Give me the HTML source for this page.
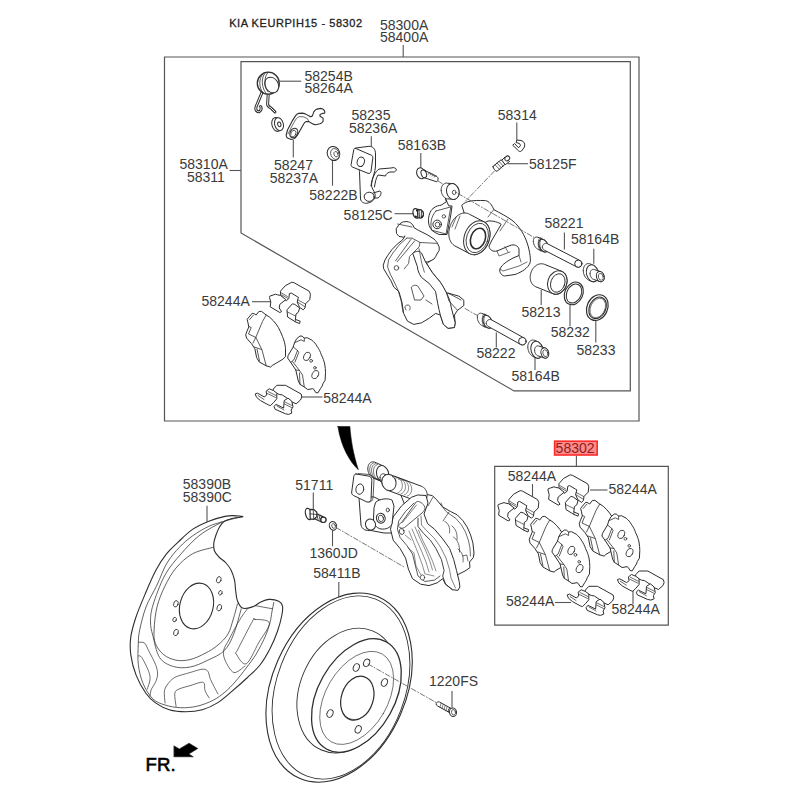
<!DOCTYPE html>
<html><head><meta charset="utf-8"><style>
html,body{margin:0;padding:0;background:#fff;}
svg{display:block;}
</style></head><body>
<svg width="800" height="800" viewBox="0 0 800 800">
<rect width="800" height="800" fill="#fff"/>
<!-- frames -->
<g fill="none" stroke="#555" stroke-width="1.2">
<path d="M164.5 57H639V421H164.5Z"/>
<path d="M241 61.7H630.3V390.9H514L241 233Z"/>
<path d="M494.7 466.4H668.3V625.1H494.7Z"/>
</g>
<!-- leaders -->
<g stroke="#555" stroke-width="1.1" fill="none">
<path d="M403.2 45V57"/>
<path d="M280 81.2H301.2"/>
<path d="M229.5 170.5H241"/>
<path d="M293.3 140V157.5"/>
<path d="M332.5 158.7V185.7"/>
<path d="M371.3 136.2V150"/>
<path d="M420.8 153V168.7"/>
<path d="M516.8 122.5V141.2"/>
<path d="M507.5 163.7H528"/>
<path d="M394.5 213.7H414.5"/>
<path d="M564.4 232.5V249.5"/>
<path d="M593.8 248.7V263.7"/>
<path d="M541.2 290V305"/>
<path d="M570 303.7V326.2"/>
<path d="M595.8 318.7V342.5"/>
<path d="M496.3 332.5V347.5"/>
<path d="M535 356.2V370"/>
<path d="M252 301.7H271.2"/>
<path d="M301.2 397H322.5"/>
<path d="M207 505.7V522.5"/>
<path d="M313.3 492.5V509.5"/>
<path d="M332.5 530V546.2"/>
<path d="M338.8 582V597.5"/>
<path d="M452 691V707.5"/>
<path d="M576.4 455.6V466.5"/>
<path d="M532.5 484V497"/>
<path d="M590 490H607.5"/>
<path d="M555 602.5H571"/>
<path d="M633 590V604"/>
</g>

<!-- ===== TOP FRAME PARTS ===== -->
<g fill="#fff" stroke="#2e2e2e" stroke-width="1" stroke-linejoin="round" stroke-linecap="round">
<!-- spring 58254B -->
<path d="M262 92.5 L256.2 106.5 C255 110 257 112.5 259.5 111.5 C261.5 110.5 261.5 107.5 260.5 106.5" fill="none" stroke-width="3"/>
<path d="M262 92.5 L256.2 106.5 C255 110 257 112.5 259.5 111.5 C261.5 110.5 261.5 107.5 260.5 106.5" fill="none" stroke="#fff" stroke-width="1"/>
<path d="M268.2 94.5 L267.6 104 C267.6 106 269 107 271 108 L275 112" fill="none" stroke-width="3"/>
<path d="M268.2 94.5 L267.6 104 C267.6 106 269 107 271 108 L275 112" fill="none" stroke="#fff" stroke-width="1"/>
<circle cx="268.3" cy="83.2" r="11" stroke-width="1.3"/>
<ellipse cx="271.7" cy="85" rx="6.6" ry="8.2" transform="rotate(-30 271.7 85)"/>
<path d="M262.5 74.5 C258.5 79 259 88 263 93 M265 73.2 C261 78 261.5 87 265.5 92.5 M267.8 72.6 C263.8 77.5 264 86 268 91.8" fill="none" stroke-width="0.8"/>
<!-- bushing -->
<ellipse cx="276.5" cy="124.5" rx="4.6" ry="7" transform="rotate(-15 276.5 124.5)"/>
<ellipse cx="279" cy="124.2" rx="4.3" ry="6.6" transform="rotate(-15 279 124.2)"/>
<ellipse cx="279.3" cy="124.3" rx="1.6" ry="2.4" transform="rotate(-15 279.3 124.3)"/>
<!-- lever 58247 -->
<path d="M286.2 135 L287.5 130 L292.5 120.6 L295.6 115.6 C296.8 114.3 297.7 113.6 298.8 113.4 L302.5 113.1 C304 113.3 305.2 113.8 306.2 114.4 L310 116.6 C311.2 116.8 312 116.4 312.5 115.6 L313.8 111.9 C314.6 110.6 315.7 109.6 316.9 109.1 L320.6 108.4 C322.3 108.6 323.6 109.4 324.4 110.6 C324.9 111.4 324.9 112.4 324.7 113.1 L322.5 113.4 L320 114.4 L320 116.2 L323.1 118.1 L323.1 121.2 C322.3 122.5 321.2 123.3 320 123.8 L315.6 124.7 C314.5 124.6 313.4 124.3 312.5 123.8 L308.8 121.6 L306.2 121.6 C305.1 122 304.3 122.8 303.8 123.8 L300.6 129.4 L297.5 135 L295 138.1 C293.8 139 292.5 139.4 291.2 139.4 L287.5 138.1 C286.5 137.3 286.1 136.2 286.2 135 Z" stroke-width="1.1"/>
<path d="M288.1 133.8 L292.5 125 L296.2 118.8 C297.5 117.4 298.7 116.7 300 116.6 L303.8 116.9 L307.5 118.8 L308.8 121.6" fill="none" stroke-width="0.7"/>
<ellipse cx="293.8" cy="133" rx="3.7" ry="5" transform="rotate(25 293.8 133)" stroke-width="1.1"/>
<ellipse cx="293.4" cy="133.6" rx="2.4" ry="3.6" transform="rotate(25 293.4 133.6)" stroke-width="0.7"/>
<!-- grommet 58222B -->
<ellipse cx="333.5" cy="153.5" rx="6.2" ry="7.2" transform="rotate(-20 333.5 153.5)"/>
<ellipse cx="335" cy="154" rx="4.2" ry="5.6" transform="rotate(-20 335 154)" stroke-width="0.7"/>
<ellipse cx="336" cy="154.2" rx="2" ry="2.8" transform="rotate(-20 336 154.2)" stroke-width="0.7"/>
<!-- bracket 58235 -->
<path d="M359.5 172 L360.5 199 C361 202.5 365 204 368 203 C373 202 376 198 375 194 C374 190 371 188 371.5 184 C372 178 375.5 172 375.5 166 L375.5 154 C375.5 149 373 146.3 369 146.3 L356 148 Z"/>
<path d="M355.6 148.4 L371.6 155.3 C372.6 155.8 373 156.8 372.8 158 L371 171.5 C370.8 173 369.5 173.8 368 173.3 L352.3 167 C351.3 166.6 350.9 165.6 351.1 164.5 L353.8 149.5 C354 148.5 354.8 148.1 355.6 148.4Z"/>
<ellipse cx="360.8" cy="161.8" rx="3.6" ry="4.8" transform="rotate(15 360.8 161.8)"/>
<path d="M371 186 C372 178 375 172 379 169 L391 168 C394 167 396 168 396.5 170 L394.5 172 L390 172 C387 173 386 174 385.5 176 L378 175 C376 178 375 183 374.5 187" fill="none"/>
<ellipse cx="369.2" cy="196.8" rx="5" ry="4.6"/>
<path d="M373 193 L380 191 C382 192 381 196 378 198 L374 198" fill="none"/>
<!-- bolt 58163B -->
<path d="M425 170.5 L437 176.6 C438.6 177.5 438.5 180.5 436.8 181.8 L423 177.3Z"/>
<path d="M428 174 L430 172.7 M430 175 L432 173.8 M432 176 L434 174.8 M434 177 L436 175.8" fill="none" stroke-width="0.7"/>
<ellipse cx="421" cy="173.3" rx="4.2" ry="5.6" transform="rotate(-20 421 173.3)"/>
<ellipse cx="423.8" cy="173.8" rx="2.6" ry="4" transform="rotate(-20 423.8 173.8)"/>
<!-- clip 58314 -->
<path d="M513 145.5 L518.5 150.8 C519.3 151.7 520.5 151.8 521.5 151 L524.5 147 C525.3 144 524 141 521 140.5 L517 140 L516 142.5 L519.5 143.5 L520.5 145.5 L518.5 147.8 L514.8 143.8 Z"/>
<!-- bleeder 58125F -->
<path d="M493 166.5 L501 159.8 C502.8 160.2 504.7 162.3 505 164.3 L497 171.3 C495.5 171.2 493.2 168.8 493 166.5Z"/>
<path d="M495 164.7 L499.7 169.6 M497 163 L501.5 168 M499 161.3 L503.3 166.2" fill="none" stroke-width="0.7"/>
<path d="M502 160 L505 157 L509.5 161.5 L505.5 164.5 Z"/>
<ellipse cx="507.3" cy="158.4" rx="2.2" ry="2.6" transform="rotate(45 507.3 158.4)"/>
<!-- small bolt 58125C -->
<ellipse cx="416.2" cy="213.4" rx="3.1" ry="4.9" transform="rotate(-15 416.2 213.4)" stroke-width="1.3"/>
<path d="M417.5 209.5 L421 209.8 L423.3 212.3 L423.4 215.8 L421 218.2 L417.8 217.6 Z" stroke-width="1.3"/>
<path d="M419 210 L419.5 217.5 M421.5 211 L421.2 217" fill="none" stroke-width="0.9"/>
<path d="M416 209.5 L418 209.8 L418 211.5 L416 211.2 Z M415 215.5 L417 216 L416.5 218 L414.8 217.2 Z M421.5 215.5 L423.3 215.8 L422.5 218 L421 217.8Z" fill="#222" stroke="none"/>
</g>


<g fill="#fff" stroke="#2e2e2e" stroke-width="1" stroke-linejoin="round" stroke-linecap="round">
<path d="M494.5 171 L465.6 201" stroke="#555" stroke-width="0.8" stroke-dasharray="5 2 1 2" fill="none"/>
<path d="M465 308.5 L479 316.5" stroke="#555" stroke-width="0.8" stroke-dasharray="5 2 1 2" fill="none"/>
<path d="M396.4 228.5 L398.1 225.9 C400 223.5 402 222 403.4 221.9 L406.9 221.5 C409 222 410.5 222.5 411.2 223.2 L413.4 225.9 L413.9 227.6 L418.2 230.2 L427 234.6 L434 239 C436 241 437 242.5 437.5 243.4 L439.2 246.9 L439.2 250.4 L437.5 253 L435.7 256.5 L434 259.1 L430.5 260.9 L427.8 261.9 L425.5 261.9 C428 266 430 269 432.5 272.8 L440.3 282.2 L446.6 293.1 L448.1 293.1 L459 296.2 L463.8 300.2 L463.8 305.6 L457.5 310.3 L454.4 315 L455.2 322.8 L454.4 327.5 L448.1 328.3 L443.4 324.4 L440.3 315 L435.6 313.4 L429.4 318.1 L421.6 322.8 L413.8 324.4 L407.5 321.2 L403.6 313.4 L402 302.5 L398.9 291.6 L393.8 287.1 L391.1 281 L386.8 274 L383.7 268.8 L383.2 265.2 L385 260 L387.6 255.6 L392 249.5 L397.2 244.2 L402.5 239.9 L405.1 235.9 L403.4 237.2 L399 236.4 L396.8 233.8 Z"/>
<path d="M406.9 238.1 L399.9 244.2 L392.9 253 L388.5 260 L387.6 267 L390.2 274 L393.8 281 L398 290 L401 300 L403 312 M406.9 238.1 L412.1 238.1 L420 242.5 L419.1 246.9 L414.8 251.2 L411.2 254.8 L409.5 256.5 L408.6 263.5 L404.2 268.8 M411.2 239 L395.5 260.9 M414.8 240.8 L397.2 261.8 M437.5 243.4 L420 242.5 M430.5 260.9 L425 265 M397.5 224 L412 227" fill="none" stroke-width="0.75"/>
<circle cx="396.4" cy="267.9" r="2.3" stroke-width="0.8"/>
<path d="M413 253 C416 251 419.5 250.5 421.5 253 L425.5 261.9 C428 266 430 269 432.5 272.8 L440.3 282.2 C443 286 445 290 446.6 293.1 C449 298 450.5 302 451.2 307.2 L455.2 322.8 L454.4 327.5 L448.1 328.3 L443.4 324.4 L440.3 315 C438.5 308 437 300 435.6 291.6 C433 288 431 286 429.4 283.7 L421.6 277.5 C419 274 417.5 270 417.4 267 Z"/>
<path d="M419 248.6 L421.8 263.5 L424.4 272.2" fill="none" stroke-width="0.7"/>
<path d="M406 310 C404 307 405 305 408 305 C410 305 411 308 409.5 310 M411.5 287 C414 284 418 285 419 288 L424 296 L421 300 L415 300 Z M426 300 L432 304" fill="none" stroke-width="0.8"/>
<path d="M446.6 293.1 L449 301 L457.5 310.3 M448.1 293.1 L461 300" fill="none" stroke-width="0.8"/>
<path d="M462 205 C466 201 472 200 485.4 200.6 C489 201 492 205 493.8 209.6 C500 213 508 217 513 221 C520 227 525 236 527.5 244 C530 252 531 260 530 263 C528 268 522 272 515 274.5 L504.5 276 C501 275.5 499 271.5 500 269 C502 264 508 261 513 258 L519 255.5 L519 249 C518 245.5 514 244 510 245.5 L497 251 C493 252 489.5 250 489 246 L492 240 L501.2 224.3 C499 222.5 493 220.5 488 221 L470 230 Z"/>
<path d="M500 269 L503 271 L519 266 L527 262 M519 255.5 L521 262 M505 246.6 L508 252 M497 251 L499 256 L510 252 M493.8 209.6 L488 217 M508 219 L500 231" fill="none" stroke-width="0.7"/>
<path d="M448.8 233.9 L448.8 232.8 L448.9 231.6 L449.1 230.4 L449.3 229.2 L449.5 228.1 L449.9 226.9 L450.2 225.7 L450.7 224.6 L451.2 223.5 L451.8 222.4 L452.4 221.4 L453.0 220.4 L453.7 219.4 L454.4 218.5 L455.2 217.7 L456.0 216.9 L456.9 216.2 L457.7 215.5 L458.6 214.9 L459.5 214.4 L460.4 214.0 L461.3 213.6 L462.2 213.3 L463.1 213.2 L464.1 213.0 L465.0 213.0 L465.9 213.1 L466.7 213.2 L467.6 213.4 L468.4 213.7 L469.2 214.1 L484.0 221.8 L484.7 222.2 L485.4 222.8 L486.1 223.4 L486.8 224.1 L487.3 224.8 L487.9 225.6 L488.3 226.5 L488.8 227.4 L489.1 228.3 L489.4 229.3 L489.6 230.4 L489.8 231.5 L489.9 232.6 L490.0 233.8 L490.0 234.9 L489.9 236.1 L489.7 237.3 L489.5 238.5 L489.3 239.6 L488.9 240.8 L488.6 242.0 L488.1 243.1 L487.6 244.2 L487.1 245.3 L486.4 246.3 L485.8 247.3 L485.1 248.3 L484.4 249.2 L483.6 250.0 L482.8 250.8 L481.9 251.6 L481.1 252.2 L480.2 252.8 L479.3 253.3 L478.4 253.7 L477.5 254.1 L476.6 254.3 L475.6 254.6 L474.7 254.7 L473.8 254.7 L472.9 254.6 L472.1 254.5 L471.2 254.3 L470.4 254.0 L469.6 253.6 L454.8 245.9 L454.1 245.4 L453.4 244.9 L452.7 244.3 L452.1 243.7 L451.5 242.9 L450.9 242.1 L450.5 241.2 L450.1 240.3 L449.7 239.4 L449.4 238.3 L449.1 237.3 L449.0 236.2 L448.9 235.1Z" /><ellipse cx="476.8" cy="237.7" rx="12.5" ry="17.5" transform="rotate(20 476.8 237.7)" />
<ellipse cx="477.3" cy="238" rx="10.6" ry="15.2" transform="rotate(20 477.3 238)" stroke-width="0.8"/>
<ellipse cx="478" cy="238.5" rx="7.2" ry="10.6" transform="rotate(20 478 238.5)" stroke-width="1.6"/>
<path d="M456 217.5 L452 227 M460 216 L455 229" fill="none" stroke-width="0.7"/>
<path d="M445.5 198.4 L448.7 205.8 L452 206 L450.8 215 L447 234.5 L439.1 234.5 L434.9 232.4 C431 230.5 429 227 428.5 222 C428.2 216 430 211 433 208.5 C436 206 439 205.3 441 205.3 L446 202 Z"/>
<path d="M436 211 L450.8 206.9 L446 234 L431.7 230.2 C430 224 431 216 436 211 Z" fill="none" stroke-width="0.8"/>
<circle cx="437.2" cy="224.4" r="4.3"/><circle cx="437.6" cy="224.6" r="2.4" stroke-width="0.8"/><circle cx="443.9" cy="216.4" r="1.7" stroke-width="0.8"/>
<path d="M438 181 L446 186" stroke="#555" stroke-width="0.8" stroke-dasharray="5 2 1 2" fill="none"/>
<path d="M441.2 189.9 L441.2 189.3 L441.2 188.8 L441.3 188.3 L441.4 187.8 L441.6 187.3 L441.8 186.8 L441.9 186.3 L442.2 185.9 L442.4 185.5 L442.7 185.1 L443.0 184.8 L443.3 184.4 L443.7 184.2 L444.0 183.9 L444.4 183.7 L444.8 183.5 L445.2 183.3 L445.6 183.2 L446.1 183.2 L446.5 183.1 L446.9 183.1 L447.4 183.2 L452.7 183.7 L453.1 183.7 L453.6 183.8 L454.0 184.0 L454.4 184.2 L454.9 184.4 L455.3 184.7 L455.7 185.0 L456.1 185.3 L456.4 185.7 L456.8 186.0 L457.1 186.5 L457.4 186.9 L457.7 187.3 L458.0 187.8 L458.2 188.3 L458.4 188.8 L458.6 189.4 L458.8 189.9 L458.9 190.4 L459.0 191.0 L459.1 191.5 L459.1 192.1 L459.1 192.6 L459.1 193.2 L459.1 193.7 L459.0 194.2 L458.9 194.7 L458.7 195.2 L458.6 195.7 L458.4 196.2 L458.1 196.6 L457.9 197.0 L457.6 197.4 L457.3 197.7 L457.0 198.1 L456.6 198.3 L456.3 198.6 L455.9 198.8 L455.5 199.0 L455.1 199.2 L454.7 199.3 L454.2 199.3 L453.8 199.4 L453.4 199.4 L452.9 199.3 L447.6 198.8 L447.2 198.8 L446.7 198.7 L446.3 198.5 L445.9 198.3 L445.4 198.1 L445.0 197.8 L444.6 197.5 L444.2 197.2 L443.9 196.8 L443.5 196.5 L443.2 196.0 L442.9 195.6 L442.6 195.2 L442.3 194.7 L442.1 194.2 L441.9 193.7 L441.7 193.1 L441.5 192.6 L441.4 192.1 L441.3 191.5 L441.2 191.0 L441.2 190.4Z" /><ellipse cx="452.8" cy="191.5" rx="6.2" ry="8" transform="rotate(-15 452.8 191.5)" />
<ellipse cx="454.2" cy="192.4" rx="1.8" ry="2.2" stroke-width="0.8"/>
<path d="M458 193.5 L535 238" stroke="#555" stroke-width="0.8" stroke-dasharray="5 2 1 2" fill="none"/>
<path d="M533.4 241.2 L533.4 240.8 L533.4 240.4 L533.5 240.0 L533.5 239.7 L533.6 239.3 L533.8 239.0 L533.9 238.7 L534.1 238.4 L534.3 238.1 L534.5 237.9 L534.7 237.7 L534.9 237.5 L535.2 237.3 L535.5 237.2 L535.8 237.1 L536.0 237.0 L536.4 237.0 L536.7 237.0 L537.0 237.0 L537.3 237.1 L537.7 237.2 L538.0 237.3 L543.4 239.5 L543.7 239.6 L544.1 239.8 L544.4 240.0 L544.7 240.2 L545.1 240.5 L545.4 240.8 L545.7 241.1 L546.0 241.4 L546.3 241.8 L546.5 242.2 L546.8 242.5 L547.1 242.9 L547.3 243.4 L547.5 243.8 L547.7 244.2 L547.9 244.7 L548.0 245.1 L548.1 245.6 L548.2 246.0 L548.3 246.4 L548.4 246.9 L548.4 247.3 L548.4 247.8 L548.4 248.2 L548.4 248.6 L548.3 249.0 L548.3 249.3 L548.2 249.7 L548.0 250.0 L547.9 250.3 L547.7 250.6 L547.5 250.9 L547.3 251.1 L547.1 251.3 L546.9 251.5 L546.6 251.7 L546.3 251.8 L546.0 251.9 L545.8 252.0 L545.5 252.0 L545.1 252.0 L544.8 252.0 L544.5 251.9 L544.1 251.8 L543.8 251.7 L538.4 249.5 L538.1 249.4 L537.7 249.2 L537.4 249.0 L537.1 248.8 L536.7 248.5 L536.4 248.2 L536.1 247.9 L535.8 247.6 L535.5 247.2 L535.2 246.8 L535.0 246.5 L534.7 246.1 L534.5 245.6 L534.3 245.2 L534.1 244.8 L533.9 244.3 L533.8 243.9 L533.7 243.4 L533.6 243.0 L533.5 242.6 L533.4 242.1 L533.4 241.7Z" /><ellipse cx="543.6" cy="245.6" rx="4.3" ry="6.8" transform="rotate(-25 543.6 245.6)" />
<path d="M540 237.5 C537.5 240 537.5 247 540.2 251 M541.6 237.8 C539.2 240.5 539.2 247.5 541.8 251.3" fill="none" stroke-width="0.7"/>
<path d="M542.4 247.0 L542.4 246.8 L542.4 246.5 L542.5 246.2 L542.5 246.0 L542.6 245.8 L542.7 245.5 L542.8 245.3 L543.0 245.1 L543.1 244.9 L543.2 244.7 L543.4 244.5 L543.6 244.3 L543.8 244.2 L544.2 243.9 L544.4 243.8 L544.6 243.7 L544.9 243.6 L545.1 243.5 L545.4 243.4 L545.6 243.4 L545.9 243.4 L546.1 243.4 L546.4 243.4 L546.6 243.4 L546.9 243.5 L547.1 243.6 L547.4 243.7 L547.6 243.8 L579.9 260.5 L580.1 260.6 L580.5 260.9 L580.7 261.0 L580.9 261.2 L581.1 261.4 L581.2 261.6 L581.4 261.8 L581.5 262.0 L581.6 262.2 L581.7 262.5 L581.8 262.7 L581.8 262.9 L581.9 263.2 L581.9 263.4 L581.9 263.7 L581.9 263.9 L581.9 264.2 L581.8 264.4 L581.8 264.7 L581.7 264.9 L581.6 265.2 L581.5 265.4 L581.4 265.6 L581.2 265.8 L581.1 266.0 L580.9 266.2 L580.7 266.4 L580.5 266.5 L580.1 266.8 L579.9 266.9 L579.6 267.0 L579.4 267.1 L579.2 267.2 L578.9 267.2 L578.7 267.3 L578.4 267.3 L578.2 267.3 L577.9 267.3 L577.7 267.2 L577.4 267.2 L577.2 267.1 L577.0 267.0 L576.7 266.9 L544.4 250.2 L544.2 250.1 L543.8 249.8 L543.6 249.7 L543.4 249.5 L543.2 249.3 L543.1 249.1 L543.0 248.9 L542.8 248.7 L542.7 248.5 L542.6 248.2 L542.5 248.0 L542.5 247.8 L542.4 247.5 L542.4 247.2Z" /><ellipse cx="578.3" cy="263.7" rx="3.6" ry="3.6" />
<path d="M583.3 270.6 L583.3 270.0 L583.3 269.5 L583.4 268.9 L583.5 268.4 L583.6 267.9 L583.8 267.4 L584.0 266.9 L584.2 266.4 L584.4 266.0 L584.7 265.6 L585.0 265.2 L585.3 264.9 L585.6 264.6 L585.9 264.3 L586.3 264.1 L586.7 263.9 L587.1 263.8 L587.5 263.6 L587.9 263.6 L588.3 263.6 L588.7 263.6 L589.2 263.6 L589.6 263.7 L590.0 263.9 L590.5 264.0 L593.5 265.3 L593.9 265.5 L594.3 265.8 L594.7 266.1 L595.1 266.4 L595.5 266.8 L595.9 267.2 L596.2 267.6 L596.6 268.0 L596.9 268.5 L597.2 269.0 L597.5 269.5 L597.7 270.1 L597.9 270.6 L598.1 271.2 L598.3 271.8 L598.4 272.3 L598.5 272.9 L598.6 273.5 L598.7 274.1 L598.7 274.7 L598.7 275.3 L598.7 275.8 L598.6 276.4 L598.5 276.9 L598.4 277.4 L598.2 277.9 L598.0 278.4 L597.8 278.9 L597.6 279.3 L597.3 279.7 L597.0 280.1 L596.7 280.4 L596.4 280.7 L596.1 281.0 L595.7 281.2 L595.3 281.4 L594.9 281.6 L594.5 281.7 L594.1 281.7 L593.7 281.8 L593.3 281.7 L592.8 281.7 L592.4 281.6 L592.0 281.4 L591.5 281.3 L588.5 280.0 L588.1 279.8 L587.7 279.5 L587.3 279.2 L586.9 278.9 L586.5 278.5 L586.1 278.1 L585.8 277.7 L585.4 277.3 L585.1 276.8 L584.8 276.3 L584.5 275.8 L584.3 275.2 L584.1 274.7 L583.9 274.1 L583.7 273.6 L583.6 273.0 L583.5 272.4 L583.4 271.8 L583.3 271.2Z" /><ellipse cx="592.5" cy="273.3" rx="6" ry="8.6" transform="rotate(-15 592.5 273.3)" />
<path d="M590.1 273.7 L590.1 273.4 L590.1 273.0 L590.2 272.7 L590.2 272.3 L590.3 272.0 L590.4 271.7 L590.5 271.4 L590.7 271.1 L590.8 270.9 L591.0 270.6 L591.2 270.4 L591.4 270.2 L591.6 270.0 L591.8 269.9 L592.0 269.7 L592.3 269.6 L592.5 269.5 L592.8 269.4 L593.0 269.4 L593.3 269.4 L593.6 269.4 L593.9 269.4 L594.1 269.5 L594.4 269.6 L600.7 271.6 L601.0 271.8 L601.2 271.9 L601.5 272.0 L601.8 272.2 L602.0 272.4 L602.2 272.6 L602.5 272.9 L602.7 273.1 L602.9 273.4 L603.1 273.7 L603.3 274.0 L603.5 274.3 L603.6 274.6 L603.8 274.9 L603.9 275.3 L604.0 275.6 L604.1 276.0 L604.1 276.3 L604.2 276.7 L604.2 277.0 L604.2 277.4 L604.2 277.7 L604.2 278.1 L604.1 278.4 L604.1 278.8 L604.0 279.1 L603.9 279.4 L603.8 279.7 L603.6 279.9 L603.5 280.2 L603.3 280.5 L603.1 280.7 L602.9 280.9 L602.7 281.1 L602.5 281.2 L602.3 281.4 L602.0 281.5 L601.8 281.6 L601.5 281.6 L601.2 281.7 L601.0 281.7 L600.7 281.7 L600.5 281.7 L600.2 281.6 L599.9 281.6 L593.6 279.4 L593.3 279.3 L593.1 279.2 L592.8 279.1 L592.5 278.9 L592.3 278.7 L592.0 278.5 L591.8 278.2 L591.6 278.0 L591.4 277.7 L591.2 277.4 L591.0 277.1 L590.8 276.8 L590.7 276.5 L590.5 276.2 L590.4 275.8 L590.3 275.5 L590.2 275.1 L590.2 274.8 L590.1 274.4 L590.1 274.1Z" /><ellipse cx="600.3" cy="276.6" rx="3.8" ry="5.2" transform="rotate(-15 600.3 276.6)" />
<ellipse cx="600.8" cy="276.8" rx="2.4" ry="3.5" transform="rotate(-15 600.8 276.8)" stroke-width="0.7"/>
<path d="M530.2 277.1 L530.2 276.3 L530.3 275.5 L530.4 274.7 L530.6 273.9 L530.8 273.1 L531.1 272.2 L531.4 271.5 L531.7 270.7 L532.1 270.0 L532.5 269.3 L533.0 268.6 L533.5 267.9 L534.0 267.3 L534.6 266.8 L535.2 266.2 L535.8 265.8 L536.4 265.3 L537.1 264.9 L537.7 264.6 L538.4 264.3 L539.1 264.1 L539.8 263.9 L540.5 263.8 L541.1 263.8 L541.8 263.8 L542.5 263.8 L543.1 263.9 L543.8 264.1 L544.4 264.3 L561.7 271.3 L562.3 271.6 L562.9 272.0 L563.4 272.3 L564.0 272.8 L564.5 273.3 L564.9 273.8 L565.3 274.4 L565.7 275.0 L566.0 275.6 L566.3 276.3 L566.6 277.0 L566.8 277.7 L566.9 278.5 L567.0 279.3 L567.1 280.1 L567.1 280.9 L567.1 281.7 L567.0 282.5 L566.9 283.3 L566.7 284.1 L566.5 284.9 L566.2 285.8 L565.9 286.5 L565.6 287.3 L565.2 288.0 L564.8 288.7 L564.3 289.4 L563.8 290.1 L563.3 290.7 L562.7 291.2 L562.1 291.8 L561.5 292.2 L560.9 292.7 L560.2 293.1 L559.6 293.4 L558.9 293.7 L558.2 293.9 L557.5 294.1 L556.8 294.2 L556.2 294.2 L555.5 294.2 L554.8 294.2 L554.1 294.1 L553.5 293.9 L552.9 293.7 L535.6 286.7 L535.0 286.4 L534.4 286.0 L533.9 285.7 L533.3 285.2 L532.9 284.7 L532.4 284.2 L532.0 283.6 L531.6 283.0 L531.3 282.4 L531.0 281.7 L530.7 281.0 L530.5 280.3 L530.4 279.5 L530.2 278.7 L530.2 277.9Z" /><ellipse cx="557.3" cy="282.5" rx="9.5" ry="12" transform="rotate(20 557.3 282.5)" />
<ellipse cx="557.8" cy="283" rx="7" ry="9.5" transform="rotate(20 557.8 283)" stroke-width="0.9"/>
<ellipse cx="573.8" cy="293.4" rx="9" ry="11.8" transform="rotate(25 573.8 293.4)" stroke-width="1.1"/>
<ellipse cx="574" cy="293.5" rx="7.2" ry="10" transform="rotate(25 574 293.5)" stroke-width="1"/>
<ellipse cx="597.3" cy="307.6" rx="10.3" ry="13.3" transform="rotate(25 597.3 307.6)" stroke-width="1.2"/>
<ellipse cx="597.6" cy="307.8" rx="8.2" ry="11.2" transform="rotate(25 597.6 307.8)" stroke-width="1.1"/>
<ellipse cx="597.8" cy="308" rx="7.2" ry="10.2" transform="rotate(25 597.8 308)" stroke-width="0.6"/>
<path d="M477.4 317.4 L477.4 317.0 L477.4 316.6 L477.5 316.2 L477.5 315.9 L477.6 315.5 L477.8 315.2 L477.9 314.9 L478.1 314.6 L478.3 314.3 L478.5 314.1 L478.7 313.9 L478.9 313.7 L479.2 313.5 L479.5 313.4 L479.8 313.3 L480.1 313.2 L480.4 313.2 L480.7 313.2 L481.0 313.2 L481.3 313.3 L481.7 313.4 L482.0 313.5 L487.4 315.7 L487.7 315.8 L488.1 316.0 L488.4 316.2 L488.7 316.4 L489.1 316.7 L489.4 317.0 L489.7 317.3 L490.0 317.6 L490.3 318.0 L490.6 318.4 L490.8 318.7 L491.1 319.1 L491.3 319.6 L491.5 320.0 L491.7 320.4 L491.9 320.9 L492.0 321.3 L492.1 321.8 L492.2 322.2 L492.3 322.6 L492.4 323.1 L492.4 323.5 L492.4 323.9 L492.4 324.4 L492.4 324.8 L492.3 325.2 L492.3 325.5 L492.2 325.9 L492.0 326.2 L491.9 326.5 L491.7 326.8 L491.5 327.1 L491.3 327.3 L491.1 327.6 L490.9 327.7 L490.6 327.9 L490.3 328.0 L490.1 328.1 L489.8 328.2 L489.4 328.2 L489.1 328.2 L488.8 328.2 L488.5 328.1 L488.1 328.1 L487.8 327.9 L482.4 325.7 L482.1 325.6 L481.7 325.4 L481.4 325.2 L481.1 324.9 L480.7 324.7 L480.4 324.4 L480.1 324.1 L479.8 323.8 L479.5 323.4 L479.2 323.1 L479.0 322.7 L478.7 322.3 L478.5 321.8 L478.3 321.4 L478.1 321.0 L477.9 320.5 L477.8 320.1 L477.7 319.6 L477.6 319.2 L477.5 318.8 L477.4 318.3 L477.4 317.9Z" /><ellipse cx="487.6" cy="321.8" rx="4.3" ry="6.8" transform="rotate(-25 487.6 321.8)" />
<path d="M484 313.7 C481.5 316.2 481.5 323.2 484.2 327.2 M485.6 314 C483.2 316.7 483.2 323.7 485.8 327.5" fill="none" stroke-width="0.7"/>
<path d="M486.3 323.2 L486.3 322.9 L486.3 322.7 L486.4 322.4 L486.4 322.2 L486.5 321.9 L486.6 321.7 L486.7 321.5 L486.9 321.2 L487.0 321.0 L487.2 320.8 L487.3 320.6 L487.5 320.4 L487.7 320.3 L487.9 320.1 L488.1 320.0 L488.4 319.9 L488.6 319.8 L488.9 319.7 L489.1 319.6 L489.4 319.6 L489.6 319.5 L489.9 319.5 L490.1 319.5 L490.4 319.5 L490.6 319.6 L490.9 319.6 L491.1 319.7 L491.4 319.8 L491.6 319.9 L523.9 337.9 L524.1 338.0 L524.4 338.1 L524.6 338.3 L524.8 338.4 L525.0 338.6 L525.1 338.8 L525.3 339.0 L525.4 339.2 L525.6 339.5 L525.7 339.7 L525.8 339.9 L525.9 340.2 L525.9 340.4 L526.0 340.7 L526.0 340.9 L526.0 341.2 L526.0 341.5 L526.0 341.7 L525.9 342.0 L525.9 342.2 L525.8 342.5 L525.7 342.7 L525.6 342.9 L525.4 343.2 L525.3 343.4 L525.1 343.6 L525.0 343.8 L524.8 343.9 L524.6 344.1 L524.4 344.3 L524.1 344.4 L523.9 344.5 L523.7 344.6 L523.4 344.7 L523.2 344.8 L522.9 344.8 L522.7 344.9 L522.4 344.9 L522.2 344.9 L521.9 344.9 L521.7 344.8 L521.4 344.8 L521.2 344.7 L520.9 344.6 L520.7 344.5 L488.4 326.5 L488.1 326.4 L487.9 326.3 L487.7 326.1 L487.5 325.9 L487.3 325.8 L487.2 325.6 L487.0 325.4 L486.9 325.2 L486.7 324.9 L486.6 324.7 L486.5 324.5 L486.4 324.2 L486.4 324.0 L486.3 323.7 L486.3 323.5Z" /><ellipse cx="522.3" cy="341.2" rx="3.7" ry="3.7" />
<path d="M527.8 347.1 L527.8 346.5 L527.8 346.0 L527.9 345.4 L528.0 344.9 L528.1 344.4 L528.3 343.9 L528.5 343.4 L528.7 342.9 L528.9 342.5 L529.2 342.1 L529.5 341.7 L529.8 341.4 L530.1 341.1 L530.4 340.8 L530.8 340.6 L531.2 340.4 L531.6 340.2 L532.0 340.1 L532.4 340.1 L532.8 340.1 L533.2 340.1 L533.7 340.1 L534.1 340.2 L534.5 340.4 L535.0 340.5 L538.0 341.8 L538.4 342.0 L538.8 342.3 L539.2 342.6 L539.6 342.9 L540.0 343.3 L540.4 343.7 L540.7 344.1 L541.1 344.5 L541.4 345.0 L541.7 345.5 L542.0 346.0 L542.2 346.6 L542.4 347.1 L542.6 347.7 L542.8 348.2 L542.9 348.8 L543.0 349.4 L543.1 350.0 L543.2 350.6 L543.2 351.2 L543.2 351.8 L543.2 352.3 L543.1 352.9 L543.0 353.4 L542.9 353.9 L542.7 354.4 L542.5 354.9 L542.3 355.4 L542.1 355.8 L541.8 356.2 L541.5 356.6 L541.2 356.9 L540.9 357.2 L540.6 357.5 L540.2 357.7 L539.8 357.9 L539.4 358.1 L539.0 358.2 L538.6 358.2 L538.2 358.2 L537.8 358.2 L537.3 358.2 L536.9 358.1 L536.5 357.9 L536.0 357.8 L533.0 356.5 L532.6 356.3 L532.2 356.0 L531.8 355.7 L531.4 355.4 L531.0 355.0 L530.6 354.6 L530.3 354.2 L529.9 353.8 L529.6 353.3 L529.3 352.8 L529.0 352.3 L528.8 351.8 L528.6 351.2 L528.4 350.6 L528.2 350.1 L528.1 349.5 L528.0 348.9 L527.9 348.3 L527.8 347.7Z" /><ellipse cx="537" cy="349.8" rx="6" ry="8.6" transform="rotate(-15 537 349.8)" />
<path d="M534.6 350.2 L534.6 349.9 L534.6 349.5 L534.7 349.2 L534.7 348.8 L534.8 348.5 L534.9 348.2 L535.0 347.9 L535.2 347.6 L535.3 347.4 L535.5 347.1 L535.7 346.9 L535.9 346.7 L536.1 346.5 L536.3 346.4 L536.5 346.2 L536.8 346.1 L537.0 346.0 L537.3 345.9 L537.5 345.9 L537.8 345.9 L538.1 345.9 L538.4 345.9 L538.6 346.0 L538.9 346.1 L545.2 348.1 L545.5 348.2 L545.7 348.3 L546.0 348.4 L546.3 348.6 L546.5 348.8 L546.8 349.0 L547.0 349.2 L547.2 349.5 L547.4 349.8 L547.6 350.1 L547.8 350.4 L548.0 350.7 L548.1 351.0 L548.2 351.3 L548.4 351.7 L548.5 352.0 L548.6 352.4 L548.6 352.7 L548.7 353.1 L548.7 353.4 L548.7 353.8 L548.7 354.1 L548.7 354.5 L548.6 354.8 L548.6 355.2 L548.5 355.5 L548.4 355.8 L548.3 356.1 L548.1 356.4 L548.0 356.6 L547.8 356.9 L547.6 357.1 L547.4 357.3 L547.2 357.5 L547.0 357.6 L546.8 357.8 L546.5 357.9 L546.3 358.0 L546.0 358.1 L545.8 358.1 L545.5 358.1 L545.2 358.1 L545.0 358.1 L544.7 358.0 L544.4 357.9 L538.1 355.9 L537.8 355.8 L537.6 355.7 L537.3 355.6 L537.0 355.4 L536.8 355.2 L536.5 355.0 L536.3 354.8 L536.1 354.5 L535.9 354.2 L535.7 353.9 L535.5 353.6 L535.3 353.3 L535.2 353.0 L535.0 352.7 L534.9 352.3 L534.8 352.0 L534.7 351.6 L534.7 351.3 L534.6 350.9 L534.6 350.6Z" /><ellipse cx="544.8" cy="353" rx="3.8" ry="5.2" transform="rotate(-15 544.8 353)" />
<ellipse cx="545.3" cy="353.2" rx="2.4" ry="3.5" transform="rotate(-15 545.3 353.2)" stroke-width="0.7"/>
</g>
<defs>
<g id="pad1">
<path d="M247.4 319 L252.2 313.3 L254.4 313.8 L256.2 315 L258.8 311.6 L261.4 311.3 L266.2 315 L269.7 317.2 C275 322 278 326 280.2 331.2 C282 335 283.5 339 283.8 340 C285 344 285.5 347 285.5 348.8 L285.5 356.6 L282.9 359.2 L276.8 362.8 L272.4 365.4 L270.6 367.1 L266.2 365.8 L259.2 361.9 L256.6 357.5 L254.9 348.8 L251.4 343.5 L246.6 338.2 L245.7 334.8 L247 331.2 L248.8 326.9 L247.9 322.5 Z"/>
<path d="M266.2 315 L262.5 321.5 L255.8 337.4 M249.7 319.5 L253.4 315.2 M249 326.5 L251.2 327.5 L248.5 334 L255.8 337.4 L261.9 349.6 L266.2 365.8 M254.4 347 L261.5 349.5 M255.8 337.4 L253 343 M257 349 L259.5 361" fill="none" stroke-width="0.8"/>
</g>
<g id="pad2">
<path d="M297 338.5 L300 336 L302.1 336.1 L304.3 338.1 L307.2 337.7 L311.9 340.2 C314 342 316 344 317 346.2 C319 349 320.5 352 321.3 354.7 C323 358 324 361 324.7 364 C325.2 367 325.5 370 325.5 372.5 L325.1 380.2 L323 383.6 L322.1 386.1 L320.4 388.7 L317.9 392.9 L315.7 392.5 L314 389.5 L312.8 388.7 L307.7 389.5 L304.3 387 L300 384.4 L298.3 381 L295.8 370 L290.7 362.3 L287.7 358.1 L288.1 355.5 L293.2 347 L294.5 342.8 Z"/>
<path d="M294.5 342.8 L301 339.8 L304.3 341.5 L304.3 338.1 M293.2 347 L297.5 350.5 L293.8 360 L290.7 362.3 M297.5 350.5 L298.8 352.4 L295 362 M292.5 361.5 L299.5 370.5 L302.5 375 L304.3 387 M295.8 370 L299.5 370.5 M300 384.4 L299.5 373" fill="none" stroke-width="0.8"/>
<ellipse cx="307" cy="356.4" rx="3.1" ry="4.4" transform="rotate(25 307 356.4)" stroke-width="0.8"/><ellipse cx="311.1" cy="360.8" rx="1.4" ry="1.4" stroke-width="0.8"/><ellipse cx="314.9" cy="367.8" rx="1.3" ry="1.3" stroke-width="0.8"/><ellipse cx="315.3" cy="374.6" rx="3.1" ry="4.4" transform="rotate(25 315.3 374.6)" stroke-width="0.8"/></g>
<g id="shimU">
<path d="M280.7 290.9 L285.2 285.8 L291.8 282.2 L294.2 282.8 L309.2 291.2 L310.4 294.2 L309.8 299.6 L305.6 303.8 L305 308 L303.2 309.8 L299.6 307.4 L297.2 302 L298.4 297.2 L297.2 296.6 L291.2 293 L289.4 293.6 L288.8 298.4 L286.4 300.8 L284 299 L281 295.4 Z"/>
<path d="M281.5 293 L287.5 296.5 M282 295 L288 298.5 M297.5 302 L304.5 306.5 M298 300 L305.5 304" fill="none" stroke-width="0.7"/>
<path d="M270.2 296 L272 295.4 L275.6 294.2 L277.4 294.8 L280.4 295.4 L285.8 299.6 L279.8 304.4 L279.2 308 L281.6 311.6 L279.8 312.5 L270.2 306.8 L270.8 302 L269.6 297.8 Z"/>
<path d="M287.6 309.2 L292.4 303.8 L294.8 304.4 L299.6 308 L298.4 312.2 L296 314 L295.4 319.4 L300.2 321.2 L299.6 323.6 L295.4 321.8 L287.6 317 L287 310.4 Z"/>
<path d="M287.5 312 L295.5 316 M295.4 319.4 L295.4 321.8" fill="none" stroke-width="0.7"/>
</g>
<g id="shimL">
<path d="M273.6 388.8 L276.8 385.3 L285.5 385.3 L301.1 394 L301.8 396.9 L300.5 400 L296.1 403.8 L291.8 401.9 L288 398.8 L282.4 395 L279.2 394.4 L273.6 391.9 Z"/>
<path d="M255.5 393.8 L257.4 393.1 L264.2 396.9 L266.8 395 L266.1 391.2 L269.2 388.8 L273.6 390.6 L276.8 393.1 L276.8 398.8 L273.6 402.5 L270.5 405.6 L268.6 405 L260.5 400.6 L256.8 397.5 Z"/>
<path d="M268 391.5 L276 395.5 M267.5 393.5 L275.5 397.5 M258 395.5 L264 399.5" fill="none" stroke-width="0.7"/>
<path d="M274.2 406.2 L276.1 404.4 L283.6 408.1 L284.2 400.6 L288 398.1 L291.8 401.2 L293 406.9 L291.1 410 L291.8 413.1 L288.6 414.4 L285.5 413.8 L275.5 409.4 Z"/>
<path d="M285 402 L292 405.5 M284.5 404 L291.5 407.5 M277 406 L284 410" fill="none" stroke-width="0.7"/>
</g>
</defs>
<g fill="#fff" stroke="#2e2e2e" stroke-width="1" stroke-linejoin="round" stroke-linecap="round">
<use href="#shimU"/>
<use href="#pad1"/><use href="#pad2"/>
<use href="#shimL"/>
<use href="#pad1" transform="translate(283.5 205)"/>
<use href="#pad1" transform="translate(333.5 189)"/>
<use href="#pad2" transform="translate(264.3 194)"/>
<use href="#pad2" transform="translate(314.3 178)"/>
<use href="#shimU" transform="translate(228.4 208.4)"/>
<use href="#shimU" transform="translate(278.4 192.6)"/>
<use href="#shimL" transform="translate(312 201)"/>
<use href="#shimL" transform="translate(362.3 185.7)"/>
</g>
<g fill="#fff" stroke="#2e2e2e" stroke-width="1" stroke-linejoin="round" stroke-linecap="round">
<path d="M242.9 516.7 C243.1 516.2 236.1 515.7 233.1 515.6 C230.1 515.5 229.1 515.5 225.0 516.4 C220.9 517.3 214.2 519.0 208.8 521.2 C203.4 523.4 197.7 525.9 192.5 529.4 C187.3 532.9 182.2 538.3 177.9 542.4 C173.6 546.5 170.2 549.2 166.5 553.8 C162.8 558.4 159.4 563.6 156.0 570.0 C152.6 576.4 149.3 584.2 146.0 592.0 C142.7 599.8 138.5 609.5 136.0 617.0 C133.5 624.5 131.7 630.6 130.8 636.9 C129.9 643.2 129.9 648.4 130.8 654.8 C131.7 661.2 133.7 669.0 136.2 675.4 C138.7 681.8 142.7 688.7 145.9 693.3 C149.1 697.9 151.6 700.1 155.5 702.9 C159.4 705.6 164.1 708.3 169.2 709.8 C174.2 711.3 180.3 711.8 185.8 711.8 C191.3 711.8 197.0 711.3 202.3 709.8 C207.6 708.3 212.6 705.9 217.4 702.9 C222.2 699.9 226.2 696.1 231.2 691.9 C236.2 687.7 242.7 682.0 247.5 677.5 C252.3 673.0 256.2 669.8 260.0 665.0 C263.8 660.2 267.1 654.4 270.0 648.8 C272.9 643.2 275.5 636.8 277.5 631.2 C279.5 625.6 281.1 619.2 281.9 615.0 C282.7 610.8 283.0 608.5 282.5 606.2 C282.0 603.9 281.1 602.3 278.8 601.2 C276.5 600.1 271.9 599.2 268.8 599.4 C265.7 599.6 262.7 601.2 260.0 602.5 C257.3 603.8 255.4 606.0 252.5 606.9 C249.6 607.8 245.0 609.1 242.5 608.1 C240.0 607.1 238.7 604.0 237.5 601.0 C236.3 598.0 236.1 593.5 235.6 590.0 C235.1 586.5 235.3 583.3 234.5 580.0 C233.7 576.7 232.4 572.8 231.0 570.0 C229.6 567.2 228.0 565.2 226.0 563.0 C224.0 560.8 220.9 559.0 219.0 557.0 C217.1 555.0 215.4 553.3 214.5 551.0 C213.6 548.7 213.6 545.7 213.8 543.0 C214.1 540.3 215.1 537.7 216.0 535.0 C216.9 532.3 218.2 529.2 219.5 527.0 C220.8 524.8 221.9 522.9 224.0 521.5 C226.1 520.1 228.8 519.3 232.0 518.5 C235.2 517.7 242.7 517.2 242.9 516.7Z" stroke-width="1.1"/>
<path d="M238.0 517.6 C235.6 518.2 228.3 520.0 223.4 521.5 C218.5 523.0 214.0 523.9 208.8 526.3 C203.7 528.7 197.4 532.4 192.5 535.9 C187.6 539.4 183.8 542.7 179.5 547.2 C175.2 551.7 170.8 556.7 167.0 563.0 C163.2 569.3 160.5 577.7 157.0 585.0 C153.5 592.3 148.9 599.5 146.0 607.0 C143.1 614.5 141.0 623.9 139.7 630.0 C138.4 636.1 138.5 638.1 138.3 643.8 C138.1 649.5 137.5 657.8 138.3 664.4 C139.1 671.0 140.7 677.9 143.1 683.6 C145.5 689.3 149.1 695.2 152.8 698.8 C156.5 702.4 160.5 703.5 165.1 705.0 C169.7 706.5 175.0 707.5 180.3 707.7 C185.6 707.9 191.3 707.5 196.8 706.3 C202.3 705.0 208.6 702.6 213.3 700.2 C218.0 697.8 221.4 695.0 225.0 692.0 C228.6 689.0 231.5 686.0 235.0 682.0 C238.5 678.0 242.7 672.7 246.2 668.0 C249.7 663.3 253.1 659.2 256.2 654.0 C259.3 648.8 262.7 642.2 265.0 637.0 C267.3 631.8 268.9 626.7 270.0 622.5 C271.1 618.3 271.3 615.3 271.9 612.0 C272.5 608.7 273.5 604.1 273.8 602.5" fill="none" stroke-width="0.75"/>
<path d="M255 605.6 L272.5 608.8" fill="none" stroke-width="0.7"/>
<path d="M213.6 547.2 C210.1 548.3 198.8 550.3 192.5 553.8 C186.2 557.3 180.6 562.6 176.0 568.0 C171.4 573.4 168.1 579.7 164.9 586.2 C161.7 592.7 158.8 599.7 157.0 607.0 C155.2 614.3 154.3 623.9 154.1 630.0 C153.8 636.1 153.9 639.7 155.5 643.8 C157.1 647.9 160.4 652.1 163.8 654.8 C167.2 657.5 171.8 659.4 176.1 660.2 C180.4 661.0 185.1 660.7 189.9 659.6 C194.7 658.5 200.3 655.8 205.0 653.4 C209.7 651.0 214.2 648.2 218.0 645.0 C221.8 641.8 225.5 638.2 228.0 634.0 C230.5 629.8 231.4 625.0 233.0 620.0 C234.6 615.0 236.8 606.5 237.5 603.8" fill="none" stroke-width="0.75"/>
<path d="M221.8 522.0 C218.2 524.2 206.8 529.7 200.0 535.0 C193.2 540.3 186.9 547.1 181.1 553.8 C175.3 560.5 169.7 566.5 165.0 575.0 C160.3 583.5 155.4 597.2 153.0 605.0 C150.6 612.8 150.5 616.9 150.5 622.0 C150.5 627.1 151.3 629.6 152.8 635.5 C154.3 641.4 156.2 652.3 159.6 657.5 C163.0 662.7 168.3 664.9 173.4 666.5 C178.5 668.1 184.2 668.1 189.9 667.1 C195.6 666.1 202.1 663.0 207.8 660.2 C213.5 657.5 220.0 655.0 224.3 650.6 C228.6 646.2 231.0 640.8 233.8 633.8 C236.6 626.8 240.0 613.0 241.2 608.8" fill="none" stroke-width="0.75"/>
<path d="M247.5 608.8 C246.4 610.2 243.4 614.0 241.2 617.5 C238.9 621.0 236.1 626.2 234.0 630.0 C231.9 633.8 230.5 636.7 228.8 640.0 C227.1 643.3 224.4 646.7 223.8 650.0 C223.2 653.3 223.3 656.2 225.0 660.0 C226.7 663.8 230.5 671.5 233.8 672.5 C237.1 673.5 243.1 667.1 245.0 666.0" fill="none" stroke-width="0.7"/>
<path d="M255.0 619.4 C257.8 619.7 268.8 619.2 269.4 623.1 C270.0 627.0 262.7 635.7 258.8 642.5 C254.9 649.3 250.0 661.9 246.2 663.8 C242.4 665.7 237.6 656.1 236.2 653.8 C234.8 651.5 234.8 655.4 237.5 650.0 C240.2 644.6 249.6 626.3 252.5 621.2 C255.4 616.1 252.2 619.1 255.0 619.4Z" fill="none" stroke-width="0.7"/>
<path d="M165.1 703.0 C165.0 700.9 163.8 694.0 164.5 690.5 C165.2 687.0 167.3 684.6 169.2 682.3 C171.1 680.0 172.6 678.4 176.1 676.8 C179.6 675.2 185.5 673.9 189.9 672.6 C194.3 671.3 199.3 669.4 202.3 669.2 C205.3 669.0 206.4 669.6 207.8 671.3 C209.2 673.0 209.3 676.8 210.5 679.5 C211.7 682.2 213.4 685.4 214.7 687.8 C215.9 690.2 217.4 693.0 218.0 694.0" fill="none" stroke-width="0.7"/>
<path d="M176.1 706.5 C175.9 704.3 174.3 696.2 174.8 693.3 C175.3 690.4 176.4 690.4 178.9 689.1 C181.4 687.8 186.2 686.8 189.9 685.7 C193.6 684.6 198.5 682.6 200.9 682.3 C203.3 681.9 203.6 682.2 204.3 683.6 C205.0 685.0 204.2 688.1 205.0 690.5 C205.8 692.9 208.5 696.8 209.2 698.0" fill="none" stroke-width="0.7"/>
<path d="M138.5 642.4 C139.5 642.5 142.8 641.6 144.5 643.0 C146.2 644.4 146.8 647.0 148.6 650.6 C150.4 654.2 154.0 660.5 155.5 664.4 C157.0 668.3 157.6 671.0 157.6 674.0 C157.6 677.0 156.5 679.8 155.5 682.3 C154.5 684.8 152.3 686.8 151.4 689.1 C150.5 691.4 150.2 694.9 150.0 696.0" fill="none" stroke-width="0.7"/>
<path d="M138.5 656.0 C139.1 656.2 140.1 655.0 141.8 657.5 C143.5 660.0 147.2 667.6 148.6 671.3 C150.0 675.0 150.2 676.5 150.0 679.5 C149.8 682.5 147.7 687.4 147.2 689.0" fill="none" stroke-width="0.7"/>
<ellipse cx="196.5" cy="606" rx="16.6" ry="23.2" transform="rotate(15 196.5 606)" stroke-width="1.1"/>
<ellipse cx="218.8" cy="579.8" rx="2.2" ry="3.3" transform="rotate(20 218.8 579.8)" stroke-width="0.8"/>
<ellipse cx="220.4" cy="592.8" rx="1.7" ry="2.3" transform="rotate(20 220.4 592.8)" stroke-width="0.8"/>
<ellipse cx="219.3" cy="607.7" rx="2.2" ry="3.3" transform="rotate(20 219.3 607.7)" stroke-width="0.8"/>
<ellipse cx="175.9" cy="603.8" rx="2.2" ry="3.3" transform="rotate(20 175.9 603.8)" stroke-width="0.8"/>
<ellipse cx="174.6" cy="619.6" rx="1.7" ry="2.3" transform="rotate(20 174.6 619.6)" stroke-width="0.8"/>
<ellipse cx="176" cy="632.5" rx="2.2" ry="3.3" transform="rotate(20 176 632.5)" stroke-width="0.8"/>
<ellipse cx="339.1" cy="687.6" rx="67" ry="99" transform="rotate(23.6 339.1 687.6)" stroke-width="1.1"/>
<ellipse cx="341" cy="687.5" rx="64" ry="95" transform="rotate(21 341 687.5)" stroke-width="0.9"/>
<ellipse cx="347.3" cy="690.6" rx="47.1" ry="64.8" transform="rotate(23.5 347.3 690.6)" stroke-width="0.9"/>
<ellipse cx="356.4" cy="695.5" rx="38.3" ry="61.3" transform="rotate(29.3 356.4 695.5)" stroke-width="1.3"/>
<ellipse cx="356.7" cy="697.9" rx="30.9" ry="50.8" transform="rotate(30.2 356.7 697.9)" stroke-width="0.6"/>
<ellipse cx="357.3" cy="698.2" rx="15.9" ry="22.5" transform="rotate(18.3 357.3 698.2)" stroke-width="1.2"/>
<path d="M343.5 714.4 C347 719 353 720.5 358 719" fill="none" stroke-width="0.7"/>
<ellipse cx="356.3" cy="667.5" rx="2.9" ry="3.9" transform="rotate(25 356.3 667.5)" stroke-width="0.9"/>
<ellipse cx="366.6" cy="662.8" rx="2.9" ry="3.9" transform="rotate(25 366.6 662.8)" stroke-width="0.9"/>
<ellipse cx="384.4" cy="682.5" rx="2.9" ry="3.9" transform="rotate(25 384.4 682.5)" stroke-width="0.9"/>
<ellipse cx="330" cy="713.5" rx="2.9" ry="3.9" transform="rotate(25 330 713.5)" stroke-width="0.9"/>
<ellipse cx="358.2" cy="729.4" rx="2.9" ry="3.9" transform="rotate(25 358.2 729.4)" stroke-width="0.9"/>
<path d="M368 664 L437 703" stroke="#555" stroke-width="0.8" stroke-dasharray="5 2 1 2" fill="none"/>
<path d="M436.3 704.0 L436.3 703.7 L436.4 703.5 L436.4 703.4 L436.4 703.2 L436.5 703.1 L436.6 702.8 L436.8 702.6 L436.9 702.5 L437.0 702.4 L437.1 702.3 L437.3 702.2 L437.4 702.1 L437.5 702.0 L437.7 702.0 L437.8 701.9 L438.1 701.8 L438.3 701.8 L438.4 701.8 L438.6 701.8 L438.7 701.8 L438.9 701.8 L439.2 701.9 L439.3 702.0 L439.5 702.0 L439.6 702.1 L451.6 708.7 L451.7 708.8 L451.9 708.9 L452.0 709.0 L452.1 709.1 L452.2 709.2 L452.3 709.3 L452.4 709.4 L452.5 709.7 L452.6 709.9 L452.6 710.0 L452.6 710.1 L452.7 710.3 L452.7 710.6 L452.7 710.9 L452.6 711.1 L452.6 711.2 L452.6 711.4 L452.5 711.5 L452.4 711.8 L452.2 712.0 L452.1 712.1 L452.0 712.2 L451.9 712.3 L451.7 712.4 L451.6 712.5 L451.5 712.6 L451.3 712.6 L451.2 712.7 L450.9 712.8 L450.7 712.8 L450.6 712.8 L450.4 712.8 L450.3 712.8 L450.1 712.8 L449.8 712.7 L449.7 712.6 L449.5 712.6 L449.4 712.5 L437.4 705.9 L437.3 705.8 L437.1 705.7 L437.0 705.6 L436.9 705.5 L436.8 705.4 L436.6 705.2 L436.5 704.9 L436.4 704.8 L436.4 704.6 L436.4 704.5 L436.3 704.3Z" /><ellipse cx="450.5" cy="710.6" rx="2.2" ry="2.2" />
<path d="M441 703.5 L440 707 M443 704.7 L442 708.3 M445 706 L444 709.5 M447 707 L446 710.8" fill="none" stroke-width="0.6"/>
<ellipse cx="453" cy="712.3" rx="3.5" ry="4.3" transform="rotate(-10 453 712.3)" stroke-width="1"/>
<ellipse cx="453.5" cy="712.3" rx="2" ry="2.8" transform="rotate(-10 453.5 712.3)" stroke-width="0.7"/>
<path d="M336.2 527.6 L405 567.5" stroke="#555" stroke-width="0.8" stroke-dasharray="5 2 1 2" fill="none"/>
<path d="M311.3 515.5 L311.3 515.3 L311.3 515.1 L311.4 514.9 L311.4 514.8 L311.5 514.6 L311.5 514.4 L311.6 514.2 L311.7 514.1 L311.8 513.9 L311.9 513.8 L312.1 513.6 L312.2 513.5 L312.3 513.4 L312.5 513.3 L312.6 513.2 L312.8 513.1 L313.0 513.0 L313.2 512.9 L313.4 512.9 L313.5 512.8 L313.7 512.8 L313.9 512.8 L314.1 512.8 L314.3 512.8 L314.5 512.8 L314.6 512.9 L314.8 512.9 L315.0 513.0 L315.2 513.1 L324.5 517.4 L324.6 517.5 L324.8 517.6 L325.0 517.7 L325.1 517.8 L325.2 517.9 L325.4 518.1 L325.5 518.2 L325.6 518.4 L325.7 518.5 L325.8 518.7 L325.8 518.9 L325.9 519.1 L325.9 519.2 L326.0 519.4 L326.0 519.6 L326.0 519.8 L326.0 520.0 L326.0 520.2 L325.9 520.4 L325.9 520.5 L325.8 520.7 L325.8 520.9 L325.7 521.1 L325.6 521.2 L325.5 521.4 L325.4 521.5 L325.2 521.7 L325.1 521.8 L325.0 521.9 L324.8 522.0 L324.6 522.1 L324.5 522.2 L324.3 522.3 L324.1 522.4 L323.9 522.4 L323.8 522.5 L323.6 522.5 L323.4 522.5 L323.2 522.5 L323.0 522.5 L322.8 522.5 L322.6 522.4 L322.5 522.4 L322.3 522.3 L322.1 522.2 L312.8 517.9 L312.6 517.8 L312.5 517.7 L312.3 517.6 L312.2 517.5 L312.1 517.4 L311.9 517.2 L311.8 517.1 L311.7 516.9 L311.6 516.8 L311.5 516.6 L311.5 516.4 L311.4 516.2 L311.4 516.1 L311.3 515.9 L311.3 515.7Z" stroke-width="1.1"/><ellipse cx="323.3" cy="519.8" rx="2.7" ry="2.7" stroke-width="1.1"/>
<path d="M316.5 513.2 L315.3 518.3 M318.3 514.1 L317.1 519.2 M320.1 515 L318.9 520.1 M321.9 515.9 L320.7 521" fill="none" stroke-width="0.8"/>
<ellipse cx="308.6" cy="514" rx="3" ry="5.8" transform="rotate(-15 308.6 514)" stroke-width="1.2"/>
<path d="M310 509.3 L314 509.6 L316.8 512.3 L316.8 516.6 L313.8 519.3 L310.2 518.8 Z" stroke-width="1.2"/>
<path d="M313.2 509.6 L313.8 519.2 M310 513.8 L316.8 514.5" fill="none" stroke-width="0.8"/>
<ellipse cx="333" cy="525.8" rx="3.6" ry="4.4" transform="rotate(-20 333 525.8)" stroke-width="1"/>
<ellipse cx="333.6" cy="526" rx="1.8" ry="2.4" transform="rotate(-20 333.6 526)" stroke-width="0.7"/>
<path d="M337.9 426.5 L349.9 426.5 C351 440 353 453 358.4 469.8 C350 462 341 447 337.9 426.5 Z" fill="#000" stroke="#000" stroke-width="0.5"/>
<path d="M174.1 745.9 L179.4 748.9 L189.1 743.2 L197.8 748.5 L188.8 754.1 L193.3 756.8 L174.1 756.8 Z" fill="#000" stroke="#000" stroke-width="0.5"/>
</g>
<g fill="#fff" stroke="#2e2e2e" stroke-width="1" stroke-linejoin="round" stroke-linecap="round">
<path d="M398 487 L420 492.2 L426.8 494.5 L432.4 495.6 L436.9 500.1 L442.5 506.9 L450.4 511.4 L457.1 514.8 L462.7 520.4 L467.2 527.1 L470.6 535 L472.9 542.9 L474 553 L473.4 557.5 L469.5 562 L470 567.6 L465 571 L457 575 L450 560 L430 530 L405 505 Z"/>
<path d="M441 503 C443 508 445 511 448 513 L456 518.5 L461.5 525 L465.5 532 L468.3 540 L470 548 L470.5 556 M444.8 521.5 C448.5 523 450.5 528 449.5 533 M452 526 C456 529 457.5 534 457 539.5 M453.5 537 C458 540 460 546 459.5 552 M458 549 C462 552 464 557 463 562 M462.5 556 L466.8 555 L468 561 M449 512 L443 521 M433 497 L428 506" fill="none" stroke-width="0.7"/>
<path d="M359 498 L361 525 C362 529.5 366 531 371 530.5 L384 533 L392 533 L394 520 L388 504 L374 497 Z"/>
<path d="M367.8 468.7 L367.8 468.2 L367.9 467.6 L367.9 467.1 L368.1 466.5 L368.2 466.0 L368.3 465.6 L368.5 465.1 L368.7 464.6 L369.0 464.2 L369.2 463.8 L369.5 463.5 L369.8 463.1 L370.2 462.9 L370.5 462.6 L370.9 462.4 L371.3 462.2 L371.6 462.0 L372.1 461.9 L372.5 461.9 L372.9 461.8 L373.3 461.9 L373.8 461.9 L374.2 462.0 L374.6 462.1 L375.0 462.3 L383.6 466.1 L384.1 466.3 L384.5 466.5 L384.9 466.8 L385.3 467.1 L385.7 467.5 L386.0 467.8 L386.4 468.2 L386.7 468.7 L387.0 469.1 L387.3 469.6 L387.6 470.1 L387.8 470.6 L388.0 471.1 L388.2 471.7 L388.4 472.2 L388.5 472.8 L388.6 473.4 L388.7 473.9 L388.8 474.5 L388.8 475.1 L388.8 475.6 L388.7 476.2 L388.6 476.7 L388.6 477.3 L388.4 477.8 L388.3 478.2 L388.1 478.7 L387.9 479.2 L387.6 479.6 L387.4 480.0 L387.1 480.3 L386.8 480.6 L386.4 480.9 L386.1 481.2 L385.7 481.4 L385.3 481.6 L384.9 481.8 L384.5 481.9 L384.1 481.9 L383.7 482.0 L383.3 481.9 L382.9 481.9 L382.4 481.8 L382.0 481.7 L381.6 481.5 L373.0 477.7 L372.5 477.5 L372.1 477.3 L371.7 477.0 L371.3 476.7 L370.9 476.3 L370.6 476.0 L370.2 475.6 L369.9 475.1 L369.6 474.7 L369.3 474.2 L369.0 473.7 L368.8 473.2 L368.6 472.6 L368.4 472.1 L368.2 471.6 L368.1 471.0 L368.0 470.4 L367.9 469.9 L367.8 469.3Z" /><ellipse cx="382.6" cy="473.8" rx="6" ry="8.3" transform="rotate(-15 382.6 473.8)" />
<path d="M378.0 478.9 L377.5 479.0 L377.0 479.0 L376.5 479.0 L375.9 478.9 L375.4 478.8 L374.9 478.6 L374.3 478.3 L373.8 478.0 L373.3 477.6 L372.8 477.2 L372.4 476.7 L371.9 476.2 L371.5 475.6 L371.2 475.0 L370.8 474.4 L370.6 473.8 L370.3 473.1 L370.1 472.4 L369.9 471.7 L369.8 471.0 L369.7 470.3 L369.7 469.6 L369.7 468.9 L369.8 468.2 L369.9 467.5 L370.1 466.9 L370.3 466.3 L370.5 465.7 L370.8 465.2 L371.1 464.7 L371.5 464.2 L371.9 463.8 L372.3 463.5 L372.8 463.2 L373.2 463.0 L373.7 462.8" fill="none" stroke-width="0.7"/>
<path d="M379.9 479.7 L379.4 479.8 L378.9 479.8 L378.4 479.8 L377.8 479.7 L377.3 479.6 L376.7 479.4 L376.2 479.1 L375.7 478.8 L375.2 478.4 L374.7 478.0 L374.3 477.5 L373.8 477.0 L373.4 476.5 L373.1 475.9 L372.7 475.2 L372.4 474.6 L372.2 473.9 L372.0 473.2 L371.8 472.5 L371.7 471.8 L371.6 471.1 L371.6 470.4 L371.6 469.7 L371.7 469.0 L371.8 468.3 L372.0 467.7 L372.2 467.1 L372.4 466.5 L372.7 466.0 L373.0 465.5 L373.4 465.1 L373.8 464.7 L374.2 464.3 L374.7 464.0 L375.1 463.8 L375.6 463.7" fill="none" stroke-width="0.7"/>
<path d="M381.8 480.5 L381.3 480.6 L380.8 480.7 L380.3 480.7 L379.7 480.6 L379.2 480.4 L378.6 480.2 L378.1 480.0 L377.6 479.6 L377.1 479.3 L376.6 478.9 L376.2 478.4 L375.7 477.9 L375.3 477.3 L375.0 476.7 L374.6 476.1 L374.3 475.4 L374.1 474.8 L373.9 474.1 L373.7 473.4 L373.6 472.6 L373.5 471.9 L373.5 471.2 L373.5 470.5 L373.6 469.8 L373.7 469.2 L373.9 468.5 L374.1 467.9 L374.3 467.4 L374.6 466.8 L374.9 466.3 L375.3 465.9 L375.7 465.5 L376.1 465.2 L376.6 464.9 L377.0 464.7 L377.5 464.5" fill="none" stroke-width="0.7"/>
<path d="M380.1 477.4 L380.2 477.0 L380.2 476.7 L380.3 476.4 L380.4 476.1 L380.5 475.8 L380.6 475.5 L380.7 475.2 L380.9 475.0 L381.0 474.8 L381.2 474.6 L381.4 474.4 L381.6 474.2 L381.8 474.1 L382.0 474.0 L382.3 473.9 L382.5 473.8 L382.8 473.8 L383.0 473.8 L383.3 473.8 L383.6 473.8 L383.8 473.9 L384.1 474.0 L388.1 475.5 L388.4 475.6 L388.6 475.7 L388.9 475.9 L389.1 476.1 L389.4 476.3 L389.6 476.5 L389.9 476.8 L390.1 477.0 L390.3 477.3 L390.6 477.6 L390.7 477.9 L390.9 478.2 L391.1 478.6 L391.2 478.9 L391.4 479.3 L391.5 479.6 L391.6 480.0 L391.7 480.4 L391.8 480.7 L391.8 481.1 L391.8 481.4 L391.9 481.8 L391.9 482.1 L391.8 482.5 L391.8 482.8 L391.7 483.1 L391.6 483.4 L391.5 483.7 L391.4 484.0 L391.3 484.3 L391.1 484.5 L391.0 484.7 L390.8 484.9 L390.6 485.1 L390.4 485.3 L390.2 485.4 L390.0 485.5 L389.7 485.6 L389.5 485.7 L389.2 485.7 L389.0 485.7 L388.7 485.7 L388.4 485.7 L388.2 485.6 L387.9 485.5 L383.9 484.0 L383.6 483.9 L383.4 483.8 L383.1 483.6 L382.9 483.4 L382.6 483.2 L382.4 483.0 L382.1 482.7 L381.9 482.5 L381.7 482.2 L381.4 481.9 L381.3 481.6 L381.1 481.3 L380.9 480.9 L380.8 480.6 L380.6 480.2 L380.5 479.9 L380.4 479.5 L380.3 479.1 L380.2 478.8 L380.2 478.4 L380.2 478.1 L380.1 477.7Z" /><ellipse cx="388" cy="480.5" rx="3.6" ry="5.4" transform="rotate(-20 388 480.5)" />
<path d="M381.8 481.5 L381.9 480.9 L381.9 480.4 L382.0 479.9 L382.1 479.3 L382.3 478.8 L382.5 478.3 L382.7 477.8 L383.0 477.4 L383.2 476.9 L383.6 476.5 L383.9 476.2 L384.3 475.8 L384.6 475.5 L385.1 475.2 L385.5 475.0 L385.9 474.8 L386.4 474.6 L386.9 474.5 L387.4 474.4 L387.8 474.4 L388.3 474.3 L388.8 474.4 L389.3 474.4 L389.8 474.6 L390.3 474.7 L390.8 474.9 L421.8 486.4 L422.3 486.6 L422.8 486.9 L423.2 487.1 L423.6 487.5 L424.1 487.8 L424.5 488.2 L424.9 488.6 L425.2 489.1 L425.5 489.6 L425.8 490.0 L426.1 490.5 L426.4 491.1 L426.6 491.6 L426.8 492.2 L426.9 492.7 L427.0 493.3 L427.1 493.9 L427.1 494.4 L427.2 495.0 L427.1 495.6 L427.1 496.1 L427.0 496.6 L426.9 497.2 L426.7 497.7 L426.5 498.2 L426.3 498.7 L426.0 499.1 L425.8 499.6 L425.4 500.0 L425.1 500.3 L424.7 500.7 L424.4 501.0 L423.9 501.3 L423.5 501.5 L423.1 501.7 L422.6 501.9 L422.1 502.0 L421.6 502.1 L421.2 502.1 L420.7 502.2 L420.2 502.1 L419.7 502.1 L419.2 501.9 L418.7 501.8 L418.2 501.6 L387.2 490.1 L386.7 489.9 L386.2 489.6 L385.8 489.4 L385.4 489.0 L384.9 488.7 L384.5 488.3 L384.1 487.9 L383.8 487.4 L383.5 486.9 L383.2 486.5 L382.9 486.0 L382.6 485.4 L382.4 484.9 L382.2 484.3 L382.1 483.8 L382.0 483.2 L381.9 482.6 L381.9 482.1Z" />
<ellipse cx="389" cy="482.5" rx="7" ry="8.3" transform="rotate(-20 389 482.5)" stroke-width="0.9"/>
<path d="M392.4 477.0 L392.9 476.8 L393.5 476.7 L394.2 476.6 L394.8 476.7 L395.4 476.7 L396.0 476.8 L396.6 477.0 L397.3 477.3 L397.8 477.6 L398.4 478.0 L399.0 478.4 L399.5 478.8 L400.0 479.3 L400.4 479.9 L400.8 480.5 L401.2 481.1 L401.5 481.7 L401.8 482.4 L402.0 483.1 L402.2 483.8 L402.3 484.5 L402.4 485.2 L402.4 485.9 L402.3 486.6 L402.2 487.3 L402.1 488.0 L401.9 488.6 L401.6 489.2 L401.3 489.8 L400.9 490.4 L400.6 490.9 L400.1 491.3 L399.6 491.7 L399.1 492.1 L398.6 492.4 L398.0 492.6" fill="none" stroke-width="0.6"/>
<path d="M395.5 478.2 L396.0 478.0 L396.6 477.9 L397.3 477.8 L397.9 477.8 L398.5 477.9 L399.1 478.0 L399.7 478.2 L400.4 478.4 L400.9 478.7 L401.5 479.1 L402.1 479.5 L402.6 480.0 L403.1 480.5 L403.5 481.0 L403.9 481.6 L404.3 482.2 L404.6 482.9 L404.9 483.6 L405.1 484.2 L405.3 484.9 L405.4 485.7 L405.5 486.4 L405.5 487.1 L405.4 487.8 L405.3 488.5 L405.2 489.1 L405.0 489.8 L404.7 490.4 L404.4 491.0 L404.0 491.5 L403.7 492.0 L403.2 492.5 L402.7 492.9 L402.2 493.2 L401.7 493.5 L401.1 493.7" fill="none" stroke-width="0.6"/>
<path d="M398.6 479.3 L399.1 479.1 L399.7 479.0 L400.4 478.9 L401.0 479.0 L401.6 479.0 L402.2 479.1 L402.8 479.3 L403.5 479.6 L404.0 479.9 L404.6 480.3 L405.2 480.7 L405.7 481.1 L406.2 481.6 L406.6 482.2 L407.0 482.8 L407.4 483.4 L407.7 484.0 L408.0 484.7 L408.2 485.4 L408.4 486.1 L408.5 486.8 L408.6 487.5 L408.6 488.2 L408.5 488.9 L408.4 489.6 L408.3 490.3 L408.1 490.9 L407.8 491.5 L407.5 492.1 L407.1 492.7 L406.8 493.2 L406.3 493.6 L405.8 494.0 L405.3 494.4 L404.8 494.7 L404.2 494.9" fill="none" stroke-width="0.6"/>
<path d="M401.7 480.5 L402.2 480.3 L402.8 480.2 L403.5 480.1 L404.1 480.1 L404.7 480.2 L405.3 480.3 L405.9 480.5 L406.6 480.7 L407.1 481.0 L407.7 481.4 L408.3 481.8 L408.8 482.3 L409.3 482.8 L409.7 483.3 L410.1 483.9 L410.5 484.5 L410.8 485.2 L411.1 485.9 L411.3 486.5 L411.5 487.2 L411.6 488.0 L411.7 488.7 L411.7 489.4 L411.6 490.1 L411.5 490.8 L411.4 491.4 L411.2 492.1 L410.9 492.7 L410.6 493.3 L410.2 493.8 L409.9 494.3 L409.4 494.8 L408.9 495.2 L408.4 495.5 L407.9 495.8 L407.3 496.0" fill="none" stroke-width="0.6"/>
<path d="M411.1 497.6 L401.5 505.9 L393.2 516.9 L390.5 529.2 L393.2 540.2 L400.1 548.5 L405.6 558.1 L408.4 569.1 L412.5 578.7 L420.7 584.2 L429 585.6 L437.2 582.8 L442.7 578.7 L445.5 584.2 L452.4 589.7 L457.9 590.4 L459.9 587 L459.2 581.5 L456.5 570.5 L453.7 559.5 L449.6 548.5 L442.7 538.9 L434.5 529.2 L427.6 523.7 L424 514 L428 503 L426 495.5 L418 495 Z"/>
<path d="M413.9 503.1 L405.6 511.4 L398.7 521 L397.4 529.2 L400.1 537.5 L407 545.7 L412.5 554 L415.2 565 L418 576 L424.9 581.5 L434.5 580.1 L440 576" fill="none" stroke-width="0.8"/>
<path d="M418 518.2 L418 526.5 L423.5 533.4 L430.4 540.2 L435.9 548.5 L441.4 559.5 L444.1 570.5 L442.7 576 L445.5 584.2 L452.4 589.7" fill="none" stroke-width="0.9"/>
<path d="M421 516 L421.5 525 L427 531 L434.5 538.5 L440.5 547 L446 558 L449.5 569.5 L451 578 L455.5 588" fill="none" stroke-width="0.6"/>
<path d="M416.6 501.7 C419 500.5 423 503 424.9 507.2 C425.5 509 424 511 422 513 L404.5 527.5 C402.5 529 399.5 528 398.7 526.5 C398.5 525 399.5 523.5 401.5 522.4 Z" stroke-width="0.8"/>
<path d="M416.5 505 L402.5 522.5" fill="none" stroke-width="0.6"/>
<path d="M409 531 L414 543 L418 553 L422 564 L425 574 M412 529 L417 541 L421.5 551 L426 562 L429 572 M415 527 L420 538.5 L425 549 L429.5 560 L432.5 570 M418.5 530 L423 541 L428 551 L432.5 561 L436 571 M405 535 L411 540 M408 548 L414 553 L416 566 L421 575 M426 574 L434 576" fill="none" stroke-width="0.55"/>
<ellipse cx="422.5" cy="577.5" rx="2.2" ry="2.6" stroke-width="0.7"/>
<ellipse cx="401.7" cy="531.5" rx="2.4" ry="3" transform="rotate(-20 401.7 531.5)" stroke-width="0.8"/>
<path d="M376 502 C380 498.5 388 498 392 500 L394 506 L392 524 C390 528 386 529.5 381 529 C376 528 373.5 524 373.5 519 L374 508 Z"/>
<ellipse cx="380.8" cy="518.2" rx="4.4" ry="5" transform="rotate(-15 380.8 518.2)" />
<ellipse cx="380.9" cy="518.4" rx="2.6" ry="3.2" transform="rotate(-15 380.9 518.4)" stroke-width="0.8"/>
<ellipse cx="387.8" cy="510" rx="1.6" ry="1.9" stroke-width="0.8"/>
<ellipse cx="370.5" cy="524.5" rx="5" ry="5.6" transform="rotate(-20 370.5 524.5)" />
<path d="M356 474 L368 476 C370.5 476.5 372 478 371.8 480.5 L371 499.5 C370.8 501.5 369 502.5 367 502 L353.5 495.5 C352 494.8 351.5 493.5 351.7 492 L353.8 476.5 C354 474.8 355 474 356 474 Z"/>
<path d="M358 473.5 L369 474.5 C372 475 374 477 374 480 L373 498 C372.8 500.5 371 502 369 502" fill="none" stroke-width="0.8"/>
<ellipse cx="359.8" cy="489.1" rx="3.9" ry="5.2" transform="rotate(10 359.8 489.1)" stroke-width="0.9"/>
</g>
<!-- red box -->
<rect x="554.6" y="441.2" width="42.6" height="13.8" fill="#ff8a8a" stroke="#ff2a2a" stroke-width="1.6"/>
<g font-family="Liberation Sans" font-size="14" fill="#3a3a3a">
<text x="229.2" y="27.3" font-size="11" letter-spacing="0.56" fill="#222" stroke="#222" stroke-width="0.3">KIA KEURPIH15 - 58302</text>
<text x="380" y="29.7">58300A</text>
<text x="380" y="42.2">58400A</text>
<text x="304.5" y="80.7">58254B</text>
<text x="304.5" y="93.2">58264A</text>
<text x="179.5" y="168.7">58310A</text>
<text x="187" y="182">58311</text>
<text x="274" y="170">58247</text>
<text x="269.8" y="182.5">58237A</text>
<text x="309.3" y="199.9">58222B</text>
<text x="351.5" y="120">58235</text>
<text x="349" y="133">58236A</text>
<text x="397.8" y="150">58163B</text>
<text x="497.8" y="119.5">58314</text>
<text x="529" y="168.7">58125F</text>
<text x="343.6" y="220.1">58125C</text>
<text x="544.5" y="228">58221</text>
<text x="571" y="243.7">58164B</text>
<text x="521.5" y="317.3">58213</text>
<text x="550.8" y="337">58232</text>
<text x="576.5" y="354.5">58233</text>
<text x="476.5" y="358">58222</text>
<text x="511.5" y="381.2">58164B</text>
<text x="201.5" y="305.5">58244A</text>
<text x="323.3" y="403">58244A</text>
<text x="182.8" y="488.7">58390B</text>
<text x="182.8" y="501.7">58390C</text>
<text x="295.3" y="490">51711</text>
<text x="309.5" y="558.2">1360JD</text>
<text x="313.3" y="578">58411B</text>
<text x="429" y="685.6">1220FS</text>
<text x="555.6" y="453" fill="#8e1c1c">58302</text>
<text x="507.8" y="480.5">58244A</text>
<text x="608.5" y="494.2">58244A</text>
<text x="506" y="606.2">58244A</text>
<text x="611.5" y="614.2">58244A</text>
<text x="145.6" y="770.6" font-size="18.6" fill="#000" stroke="#000" stroke-width="0.6">FR.</text>
</g>
</svg>
</body></html>
